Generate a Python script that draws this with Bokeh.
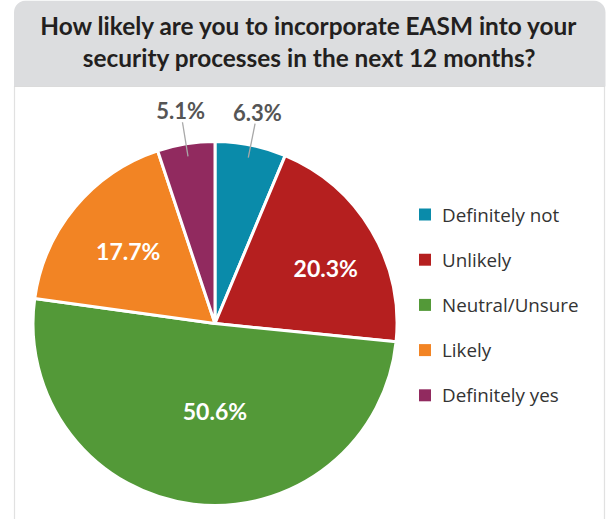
import math
from bokeh.plotting import figure
from bokeh.models import Range1d, BoxAnnotation, ColumnDataSource
from bokeh.core.properties import value
from bokeh.embed import file_html
from bokeh.resources import INLINE

title_lines = ["How likely are you to incorporate EASM into your",
               "security processes in the next 12 months?"]
categories = ["Definitely not", "Unlikely", "Neutral/Unsure", "Likely", "Definitely yes"]
percents = [6.3, 20.3, 50.6, 17.7, 5.1]
colors = ["#0A8BAA", "#B51F1F", "#539938", "#F28424", "#912A5F"]
labels = ["6.3%", "20.3%", "50.6%", "17.7%", "5.1%"]

W, H = 611, 519
FONT = "Lato"

def Y(yp):
    return H - yp

p = figure(width=W, height=H, x_range=Range1d(0, W), y_range=Range1d(0, H),
           output_backend="svg", toolbar_location=None, min_border=0)
p.axis.visible = False
p.grid.visible = False
p.outline_line_color = None
p.background_fill_color = "white"
p.border_fill_color = "white"

# header box
p.add_layout(BoxAnnotation(left=13.5, right=605, top=Y(0), bottom=Y(86), level="underlay",
                           fill_color="#DCDDDF", fill_alpha=1, line_color=None,
                           border_radius=dict(top_left=12, top_right=12, bottom_right=0, bottom_left=0)))
# panel border
p.add_layout(BoxAnnotation(left=14, right=604, top=Y(86), bottom=-10, level="underlay",
                           fill_color="white", fill_alpha=1, line_color="#9C9C9C", line_width=1.2))

p.text(x=[309, 309], y=[Y(25), Y(57)], text=title_lines, text_font=value(FONT),
       text_font_style="bold", text_font_size="24.4px", text_color="#231F20",
       text_align="center", text_baseline="middle")

# pie
cx, cy, R = 214.5, Y(323), 182
total = sum(percents)
starts, ends, mids = [], [], []
cum = 0.0
for v in percents:
    a0 = math.pi / 2 - 2 * math.pi * cum / total
    cum += v
    a1 = math.pi / 2 - 2 * math.pi * cum / total
    starts.append(a0); ends.append(a1); mids.append((a0 + a1) / 2)

src = ColumnDataSource(dict(start=starts, end=ends, color=colors))
p.wedge(x=cx, y=cy, radius=R, start_angle="start", end_angle="end", direction="clock",
        fill_color="color", line_color="white", line_width=3, source=src)

# inside label placement: (radius fraction, angular shift in degrees, clockwise)
inside_pos = {1: (0.68, 4.3), 2: (0.48, -6.8), 3: (0.62, 0.0)}
in_x, in_y, in_t = [], [], []
out_x, out_y, out_t, lx0, ly0, lx1, ly1 = [], [], [], [], [], [], []
for i, m in enumerate(mids):
    if i in inside_pos:
        rf, sh = inside_pos[i]
        a = m - math.radians(sh)
        r = rf * R
        in_x.append(cx + r * math.cos(a)); in_y.append(cy + r * math.sin(a)); in_t.append(labels[i])
    else:
        lx0.append(cx + 0.93 * R * math.cos(m)); ly0.append(cy + 0.93 * R * math.sin(m))
        lx1.append(cx + 1.12 * R * math.cos(m)); ly1.append(cy + 1.12 * R * math.sin(m))
        out_x.append(cx + 1.185 * R * math.cos(m)); out_y.append(cy + 1.185 * R * math.sin(m))
        out_t.append(labels[i])

p.segment(x0=lx0, y0=ly0, x1=lx1, y1=ly1, line_color="#A8A8A8", line_width=1.3)
p.text(x=out_x, y=out_y, text=out_t, text_font=value(FONT), text_font_style="bold",
       text_font_size="22px", text_color="#555555", text_align="center", text_baseline="middle")
p.text(x=in_x, y=in_y, text=in_t, text_font=value(FONT), text_font_style="bold",
       text_font_size="23px", text_color="white", text_align="center", text_baseline="middle")

# legend
leg_y = [Y(214 + 45.2 * i) for i in range(len(categories))]
p.scatter(x=[424.5] * len(categories), y=leg_y, marker="square", size=12,
          fill_color=colors, line_color=None)
p.text(x=[441.5] * len(categories), y=leg_y, text=categories, text_font=value("Open Sans"),
       text_font_size="18.8px", text_color="#333333", text_align="left", text_baseline="middle")

open("out.html", "w").write(file_html(p, INLINE))
